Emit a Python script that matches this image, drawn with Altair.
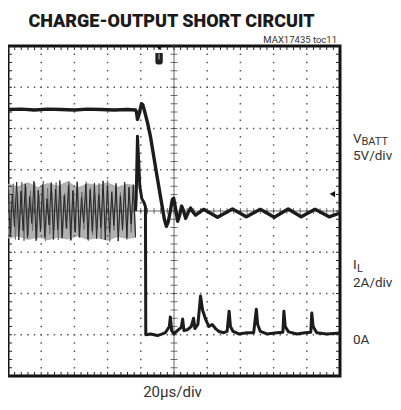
import altair as alt
import pandas as pd
import numpy as np

# ---------------- data (time in divisions, level in divisions) ----------------
vbatt_t = [0.0, 0.4, 0.8, 1.2, 1.6, 2.0, 2.4, 2.8, 3.2, 3.6, 3.84,
           3.87, 3.90, 3.95, 4.02, 4.06, 4.12, 4.20, 4.29, 4.44, 4.59, 4.71, 4.77,
           4.83, 4.89, 4.95, 4.99, 5.05, 5.11, 5.17, 5.23, 5.29, 5.35, 5.42, 5.50,
           5.57, 5.65, 5.89, 6.31, 6.76, 7.18, 7.60, 8.02, 8.44, 8.83, 9.25, 9.67, 10.0]
vbatt_v = [6.46, 6.47, 6.45, 6.47, 6.46, 6.45, 6.47, 6.46, 6.45, 6.46, 6.45,
           6.40, 6.22, 6.35, 6.60, 6.58, 6.40, 6.15, 5.81, 5.08, 4.36, 3.80, 3.63,
           3.75, 4.00, 4.28, 4.31, 4.05, 3.75, 3.90, 4.12, 4.00, 3.82, 3.95, 4.07,
           3.98, 3.90, 4.04, 3.85, 4.05, 3.86, 4.04, 3.85, 4.05, 3.86, 4.04, 3.86, 3.95]

# inductor current switching ripple before the short (alternating peaks/valleys)
ripple_hi = [4.62, 4.41, 4.70, 4.48, 4.66, 4.35, 4.72, 4.50, 4.64, 4.30,
             4.69, 4.53, 4.74, 4.38, 4.63, 4.49, 4.71, 4.33, 4.65, 4.52,
             4.68, 4.40, 4.73, 4.61, 4.45, 4.67, 4.36, 4.70, 4.58, 4.64]
ripple_lo = [3.38, 3.62, 3.30, 3.52, 3.35, 3.70, 3.28, 3.50, 3.36, 3.66,
             3.31, 3.55, 3.34, 3.58, 3.29, 3.49, 3.37, 3.72, 3.32, 3.51,
             3.33, 3.60, 3.30, 3.48, 3.64, 3.27, 3.53, 3.35, 3.68, 3.36]
ripple2_hi = [4.52, 4.66, 4.44, 4.70, 4.58, 4.49, 4.68, 4.40, 4.73, 4.55,
              4.47, 4.69, 4.60, 4.43, 4.72, 4.51, 4.64, 4.46, 4.71, 4.57,
              4.42, 4.67, 4.54, 4.74, 4.48, 4.62, 4.45, 4.66, 4.53, 4.60]
ripple2_lo = [3.45, 3.31, 3.56, 3.28, 3.40, 3.52, 3.33, 3.60, 3.27, 3.44,
              3.54, 3.30, 3.39, 3.57, 3.29, 3.47, 3.35, 3.55, 3.28, 3.42,
              3.58, 3.32, 3.46, 3.26, 3.53, 3.37, 3.56, 3.31, 3.48, 3.40]
ripple_end = 3.84

band_t = [0.0, 0.3, 0.6, 0.9, 1.2, 1.5, 1.8, 2.1, 2.4, 2.7, 3.0, 3.3, 3.6, 3.84]
band_hi = [4.66, 4.60, 4.70, 4.58, 4.68, 4.62, 4.72, 4.57, 4.67, 4.63, 4.70, 4.59, 4.66, 4.62]
band_lo = [3.33, 3.38, 3.30, 3.36, 3.29, 3.35, 3.31, 3.39, 3.30, 3.34, 3.28, 3.37, 3.32, 3.35]

il_t = [3.84, 3.86, 3.90, 3.93, 3.97, 4.03, 4.10, 4.14, 4.15, 4.30, 4.50, 4.65,
        4.74, 4.86, 4.89, 4.93, 5.00, 5.10, 5.22, 5.26, 5.30, 5.40, 5.52, 5.59,
        5.63, 5.72, 5.80, 5.86, 5.95, 6.05, 6.15, 6.25, 6.35, 6.50, 6.60, 6.66,
        6.70, 6.78, 6.95, 7.20, 7.40, 7.48, 7.52, 7.60, 7.80, 8.10, 8.28, 8.31,
        8.35, 8.45, 8.70, 8.95, 9.12, 9.15, 9.19, 9.30, 9.60, 10.0]
il_v = [4.00, 4.30, 5.81, 5.30, 4.60, 4.30, 4.20, 4.10, 1.00, 1.02, 0.98, 1.02,
        1.05, 1.20, 1.43, 1.10, 1.02, 1.10, 1.18, 1.38, 1.10, 1.12, 1.20, 1.40,
        1.15, 1.25, 1.94, 1.60, 1.38, 1.20, 1.25, 1.15, 1.08, 1.05, 1.08, 1.57,
        1.20, 1.08, 1.02, 1.05, 1.05, 1.62, 1.25, 1.08, 1.02, 1.05, 1.06, 1.57,
        1.20, 1.07, 1.02, 1.05, 1.06, 1.53, 1.20, 1.05, 1.02, 1.04]

trig_pos = [4.55]
trig_level_t = [9.77]
trig_level_v = [4.41]

title_text = "CHARGE-OUTPUT SHORT CIRCUIT"
ref_text = "MAX17435 toc11"
xlabel_text = "20\u00b5s/div"

# ---------------- layout ----------------
W, H = 332, 330
NX, NY = 10, 8
FONT = "Roboto, Liberation Sans, sans-serif"

xs = alt.Scale(domain=[0, NX], nice=False, zero=False)
ys = alt.Scale(domain=[0, NY], nice=False, zero=False)
X = lambda f: alt.X(f, type="quantitative", scale=xs, axis=None)
Y = lambda f: alt.Y(f, type="quantitative", scale=ys, axis=None)

minor_x = np.round(np.arange(0, NX + 0.001, 0.2), 2)
minor_y = np.round(np.arange(0, NY + 0.001, 0.2), 2)

dots = []
for k in range(1, NX):
    if k == NX // 2:
        continue
    for y in minor_y[1:-1]:
        dots.append({"t": k, "v": y})
for j in range(1, NY):
    if j == NY // 2:
        continue
    for x in minor_x[1:-1]:
        dots.append({"t": x, "v": j})
dots_df = pd.DataFrame(dots)

grid = alt.Chart(dots_df).mark_square(size=2.2, color="#555", opacity=1).encode(
    x=X("t"), y=Y("v"))

mx_df = pd.DataFrame({"t": minor_x})
my_df = pd.DataFrame({"v": minor_y})

top_ticks = alt.Chart(mx_df).mark_rule(color="#222", strokeWidth=1).encode(
    x=X("t"), y=alt.value(0), y2=alt.value(4))
bot_ticks = alt.Chart(mx_df).mark_rule(color="#222", strokeWidth=1).encode(
    x=X("t"), y=alt.value(H), y2=alt.value(H - 4))
left_ticks = alt.Chart(my_df).mark_rule(color="#222", strokeWidth=1).encode(
    y=Y("v"), x=alt.value(0), x2=alt.value(4))
right_ticks = alt.Chart(my_df).mark_rule(color="#222", strokeWidth=1).encode(
    y=Y("v"), x=alt.value(W), x2=alt.value(W - 4))

cx_df = pd.DataFrame({"t": minor_x, "v": [NY / 2] * len(minor_x)})
cy_df = pd.DataFrame({"t": [NX / 2] * len(minor_y), "v": minor_y})
cx_ticks = alt.Chart(cx_df).mark_tick(orient="vertical", size=6, thickness=1, color="#333").encode(
    x=X("t"), y=Y("v"))
cy_ticks = alt.Chart(cy_df).mark_tick(orient="horizontal", size=7, thickness=1, color="#333").encode(
    x=X("t"), y=Y("v"))
cline_v = alt.Chart(pd.DataFrame({"t": [NX / 2]})).mark_rule(color="#444", strokeWidth=0.8).encode(x=X("t"))
cline_h = alt.Chart(pd.DataFrame({"v": [NY / 2]})).mark_rule(color="#444", strokeWidth=0.8).encode(y=Y("v"))

band = alt.Chart(pd.DataFrame({"t": band_t, "lo": band_lo, "hi": band_hi})).mark_area(
    color="#a8a8a8", opacity=0.9).encode(x=X("t"), y=Y("lo"), y2="hi")


def zig(hi, lo, offset, color, width):
    vals = []
    for h, l in zip(hi, lo):
        vals += [h, l]
    t = np.linspace(offset, ripple_end, len(vals))
    return alt.Chart(pd.DataFrame({"t": t, "v": vals, "o": range(len(vals))})).mark_line(
        color=color, strokeWidth=width, clip=True).encode(x=X("t"), y=Y("v"), order="o")


ripple2 = zig(ripple2_hi, ripple2_lo, 0.03, "#6e6e6e", 1.0)
ripple = zig(ripple_hi, ripple_lo, 0.0, "#262626", 1.0)

il = alt.Chart(pd.DataFrame({"t": il_t, "v": il_v, "o": range(len(il_t))})).mark_line(
    color="#1c1c1c", strokeWidth=3, clip=True, strokeJoin="round").encode(x=X("t"), y=Y("v"), order="o")
vb = alt.Chart(pd.DataFrame({"t": vbatt_t, "v": vbatt_v, "o": range(len(vbatt_t))})).mark_line(
    color="#1c1c1c", strokeWidth=3.4, clip=True, strokeJoin="round").encode(x=X("t"), y=Y("v"), order="o")

trig_tri = alt.Chart(pd.DataFrame({"t": trig_pos, "v": [7.96]})).mark_point(
    shape="triangle-down", filled=True, size=35, color="#111", opacity=1).encode(x=X("t"), y=Y("v"))
trig_icon = alt.Chart(pd.DataFrame({"t": trig_pos, "v": [7.69]})).mark_point(
    shape="M-0.65,-1L0.65,-1L0.65,0.5Q0.65,1 0,1Q-0.65,1 -0.65,0.5Z", filled=True, size=130,
    color="#222", opacity=1).encode(x=X("t"), y=Y("v"))
trig_notch = alt.Chart(pd.DataFrame({"t": trig_pos, "v": [7.72]})).mark_point(
    shape="M-0.12,-1L0.12,-1L0.12,0.5L-0.12,0.5Z", filled=True, size=64,
    color="#bbb", opacity=1).encode(x=X("t"), y=Y("v"))
lvl = alt.Chart(pd.DataFrame({"t": trig_level_t, "v": trig_level_v})).mark_point(
    shape="triangle-left", filled=True, size=40, color="#111", opacity=1).encode(x=X("t"), y=Y("v"))

one = pd.DataFrame({"a": [0]})


def txt(s, x, y, size, align="left", weight="normal", color="#333"):
    return alt.Chart(one).mark_text(text=s, align=align, baseline="alphabetic", font=FONT,
                                    fontSize=size, fontWeight=weight, color=color).encode(
        x=alt.value(x), y=alt.value(y))


texts = [
    txt(title_text, 163.5, -19.5, 18, align="center", weight=900, color="#1a1a1a"),
    txt(ref_text, 329, -3, 9.5, align="right"),
    txt("V", 345, 97, 13.5),
    txt("BATT", 353.5, 99, 11),
    txt("5V/div", 345, 114, 13.5),
    txt("I", 345, 223, 13.5),
    txt("L", 349, 226, 11),
    txt("2A/div", 345, 241, 13.5),
    txt("0A", 345, 298, 13.5),
    txt(xlabel_text, 164.5, 351, 15, align="center"),
]

chart = alt.layer(
    band, grid, cline_v, cline_h, cx_ticks, cy_ticks,
    top_ticks, bot_ticks, left_ticks, right_ticks,
    ripple2, ripple, il, vb, trig_tri, trig_icon, trig_notch, lvl, *texts
).properties(
    width=W, height=H, autosize="none",
    padding={"left": 0, "top": 38, "right": 53, "bottom": 26},
).configure_view(stroke="#111", strokeWidth=3)

chart.save("out.html", embed_options={"renderer": "svg", "actions": False})
